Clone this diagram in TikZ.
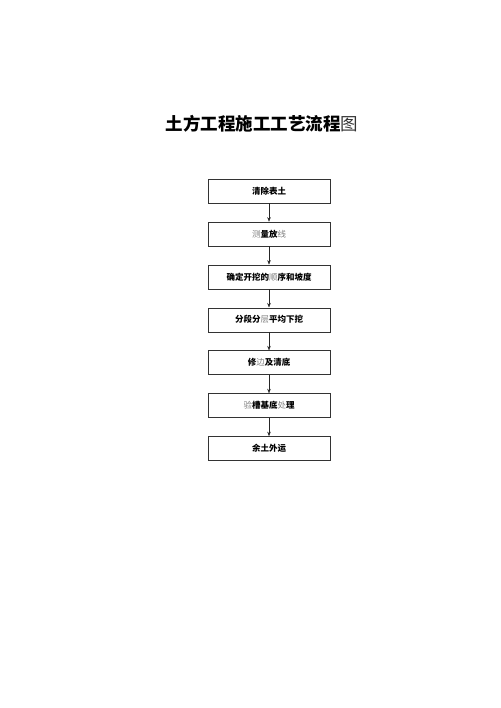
\documentclass[tikz,border=0pt]{standalone}
\usepackage{fontspec}
\setmainfont{Noto Sans CJK SC}
\usepackage{tikz}
\usetikzlibrary{positioning,arrows.meta}
\newcommand{\pale}[1]{{\mdseries\color{black!50}#1}}
\newcommand{\thinch}[1]{{\mdseries\color{black!80}#1}}

\begin{document}
\begin{tikzpicture}[auto, node distance=42.9pt, thin,
  stepbox/.style={rectangle, draw=black!80, minimum width=122pt, minimum height=24pt, inner sep=0pt, font=\fontsize{8.5pt}{10pt}\selectfont\bfseries},
  flow/.style={-{Stealth[length=4.5pt,width=3.5pt]}, black!85}]
\useasboundingbox (0,0) rectangle (500pt,-708pt);
\node (title) at (262pt,-124pt) {\fontsize{17.5pt}{20pt}\selectfont\bfseries 土方工程施工工艺流程\thinch{图}};
\node[stepbox] (A) at (269pt,-191pt) {清除表土};
\node[stepbox] (B) [below of=A] {\pale{测}量放\pale{线}};
\node[stepbox] (C) [below of=B] {确定开挖的\pale{顺}序和坡度};
\node[stepbox] (D) [below of=C] {分段分\pale{层}平均下挖};
\node[stepbox] (E) [below of=D] {修\pale{边}及清底};
\node[stepbox] (F) [below of=E] {\pale{验}槽基底\pale{处}理};
\node[stepbox] (G) [below of=F] {余土外运};
\path[flow]
(A) edge (B)
(B) edge (C)
(C) edge (D)
(D) edge (E)
(E) edge (F)
(F) edge (G);
\end{tikzpicture}
\end{document}
